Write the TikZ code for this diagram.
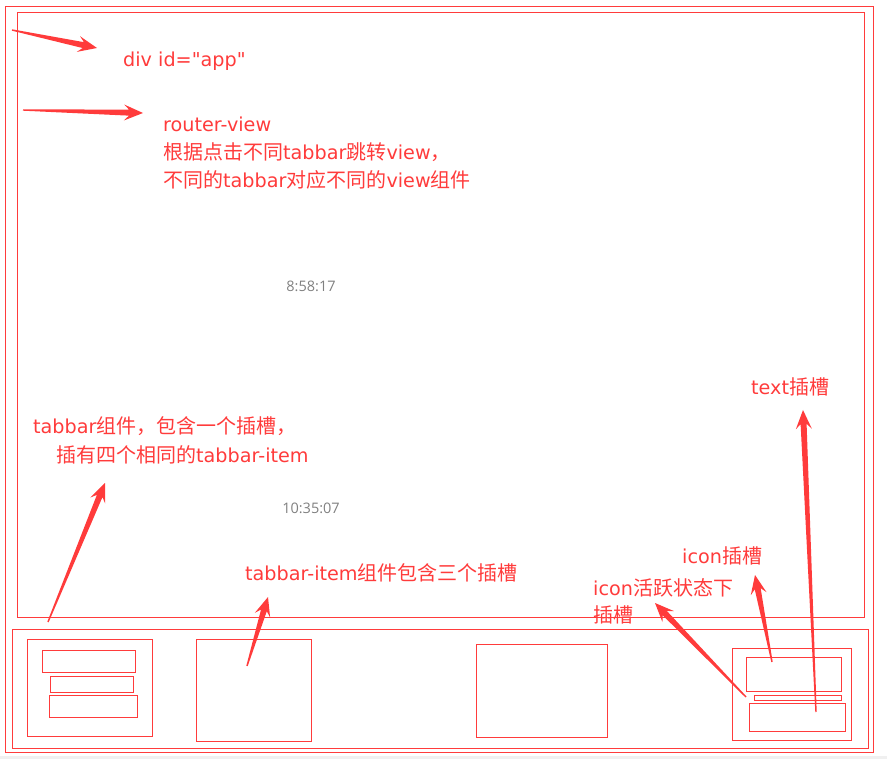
\documentclass[tikz,border=0pt]{standalone}
\usepackage{fontspec}
\newfontfamily\cjkfont{Noto Sans CJK SC}
\newfontfamily\latfont{DejaVu Sans}
\newfontfamily\stampfont{Open Sans}
\newcommand\lat[1]{{\latfont\fontsize{19.2}{22}\selectfont #1}}
\usetikzlibrary{calc}

\definecolor{annred}{RGB}{255,59,59}
\definecolor{stampgray}{RGB}{128,128,128}

\tikzset{
  box/.style={draw=annred, line width=1pt},
  lbl/.style={text=annred, font=\cjkfont\fontsize{20}{22}\selectfont, anchor=base west, inner sep=0pt},
  stamp/.style={text=stampgray, font=\stampfont\fontsize{14.5}{16}\selectfont, inner sep=0pt},
  ann/.style={fill=annred},
}

% tapered annotation arrow from #1 (tail) to #2 (tip)
\newcommand\annarrow[2]{%
  \fill[ann] ($(#1)!0.7pt!90:(#2)$)
    -- ($(#2)!14pt!(#1)!3pt!90:(#2)$)
    -- ($(#2)!19pt!(#1)!8pt!90:(#2)$)
    -- (#2)
    -- ($(#2)!19pt!(#1)!8pt!-90:(#2)$)
    -- ($(#2)!14pt!(#1)!3pt!-90:(#2)$)
    -- ($(#1)!0.7pt!-90:(#2)$) -- cycle;}

\begin{document}
\begin{tikzpicture}[x=1pt, y=-1pt]
  \useasboundingbox (0,0) rectangle (887,759);
  \fill[black!6] (0,756) rectangle (887,759);

  % app, router-view, tabbar
  \draw[box] (5.5,6.5) rectangle (873.5,752.5);
  \draw[box] (17.5,12.5) rectangle (864.5,617.5);
  \draw[box] (12.5,629.5) rectangle (868.5,748.5);

  % tabbar-items
  \draw[box] (27.5,639.5) rectangle (152.5,736.5);
  \draw[box] (42.5,650.5) rectangle (135.5,672.5);
  \draw[box] (50.5,676.5) rectangle (133.5,692.5);
  \draw[box] (49.5,695.5) rectangle (137.5,717.5);
  \draw[box] (196.5,639.5) rectangle (311.5,741.5);
  \draw[box] (476.5,644.5) rectangle (607.5,737.5);
  \draw[box] (732.5,648.5) rectangle (851.5,740.5);
  \draw[box] (746.5,657.5) rectangle (841.5,691.5);
  \draw[box] (754.5,695.5) rectangle (841.5,700.5);
  \draw[box] (749.5,703.5) rectangle (845.5,731.5);

  % labels
  \node[lbl] (l1) at (123,67) {\lat{div id="app"}};
  \node[lbl] (l2) at (163,132) {\lat{router-view}};
  \node[lbl] (l3) at ($(l2.base west)+(0,28)$) {根据点击不同\lat{tabbar}跳转\lat{view}，};
  \node[lbl] (l4) at ($(l3.base west)+(0,28)$) {不同的\lat{tabbar}对应不同的\lat{view}组件};
  \node[lbl] (l5) at (33,434) {\lat{tabbar}组件，包含一个插槽，};
  \node[lbl] (l6) at (56,463) {插有四个相同的\lat{tabbar-item}};
  \node[lbl] (l7) at (245,580) {\lat{tabbar-item}组件包含三个插槽};
  \node[lbl] (l8) at (751,395) {\lat{text}插槽};
  \node[lbl] (l9) at (682,563) {\lat{icon}插槽};
  \node[lbl] (l10) at (593,595) {\lat{icon}活跃状态下};
  \node[lbl] (l11) at ($(l10.base west)+(0,27)$) {插槽};
  \node[stamp] (s1) at (311,286) {8:58:17};
  \node[stamp] (s2) at (311,508) {10:35:07};

  % arrow ends
  \coordinate (p1) at (12,30);   \coordinate (q1) at (97,48);
  \coordinate (p2) at (23,110);  \coordinate (q2) at (143,113);
  \coordinate (p3) at (48,622);  \coordinate (q3) at (105,483);
  \coordinate (p4) at (247,666); \coordinate (q4) at (268,597);
  \coordinate (p5) at (746,697); \coordinate (q5) at (655,603);
  \coordinate (p6) at (772,662); \coordinate (q6) at (755,575);
  \coordinate (p7) at (816,712); \coordinate (q7) at (803,410);

  \foreach \i in {1,...,7}
    \annarrow{p\i}{q\i};
\end{tikzpicture}
\end{document}
